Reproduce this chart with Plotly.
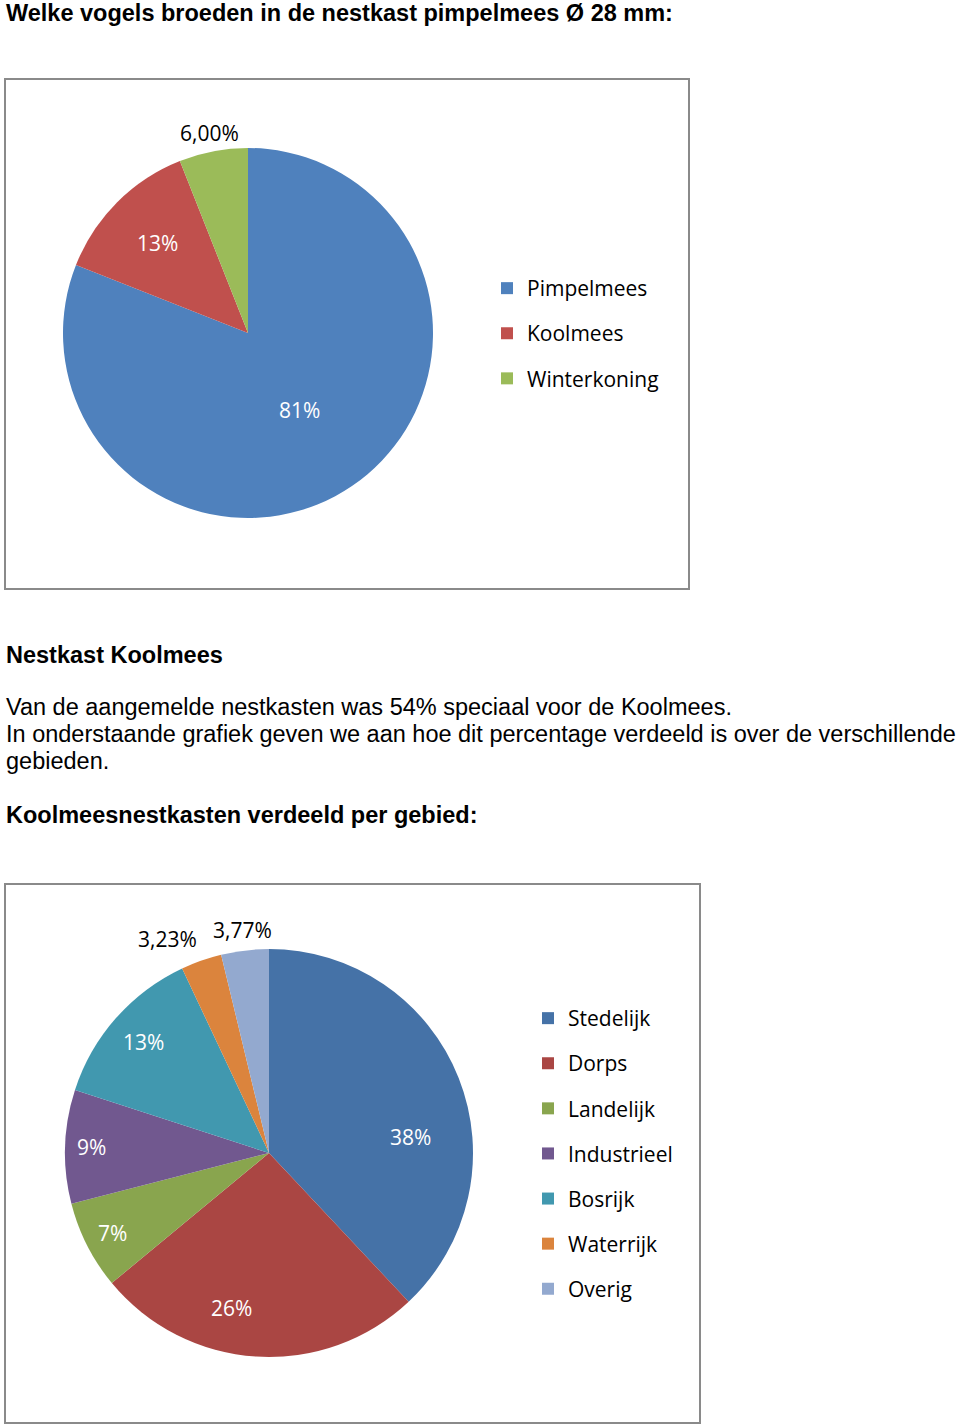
import math
import plotly.graph_objects as go

# ---- data ----
title1 = "Welke vogels broeden in de nestkast pimpelmees Ø 28 mm:"
birds = ["Pimpelmees", "Koolmees", "Winterkoning"]
bird_values = [81, 13, 6]
bird_text = ["81%", "13%", "6,00%"]
bird_colors = ["#4F81BD", "#C0504D", "#9BBB59"]

heading2 = "Nestkast Koolmees"
body_lines = [
    "Van de aangemelde nestkasten was 54% speciaal voor de Koolmees.",
    "In onderstaande grafiek geven we aan hoe dit percentage verdeeld is over de verschillende",
    "gebieden.",
]
title2 = "Koolmeesnestkasten verdeeld per gebied:"
areas = ["Stedelijk", "Dorps", "Landelijk", "Industrieel", "Bosrijk", "Waterrijk", "Overig"]
area_values = [38, 26, 7, 9, 13, 3.23, 3.77]
area_text = ["38%", "26%", "7%", "9%", "13%", "3,23%", "3,77%"]
area_colors = ["#4572A7", "#AA4643", "#89A54E", "#71588F", "#4198AF", "#DB843D", "#93A9CF"]

# ---- style / layout ----
W, H = 960, 1426
CHART_FONT = "Open Sans, Carlito, Calibri, sans-serif"
DOC_FONT = "Liberation Sans Narrow, Arial Narrow, Liberation Sans, Arial, sans-serif"
DOC_SIZE = 23.5
LABEL_SIZE = 21

# pie geometry in pixels: centre x, centre y, radius
PIE1 = (248, 333, 185)
PIE2 = (269, 1153, 204)
# label placement (fraction of radius from centre, angular nudge in degrees)
pie1_label_r = [0.50, 0.69, 1.10]
pie1_label_nudge = [0, 0, 0]
pie1_outside = [False, False, True]
pie2_label_r = [0.70, 0.78, 0.86, 0.87, 0.82, 1.16, 1.10]
pie2_label_nudge = [15, 10, 0, 0, 0, -6, 0]
pie2_outside = [False, False, False, False, False, True, True]


def px(x):
    return x / W


def py(y):
    return 1 - y / H


def domain(geom):
    cx, cy, r = geom
    return dict(x=[px(cx - r), px(cx + r)], y=[py(cy + r), py(cy - r)])


def slice_labels(values, texts, geom, rfrac, nudge, outside):
    cx, cy, r = geom
    total = float(sum(values))
    start = 0.0
    out = []
    for v, t, f, n, o in zip(values, texts, rfrac, nudge, outside):
        mid = (start + v / 2.0) / total * 360.0 + n
        start += v
        a = math.radians(mid)
        x = cx + f * r * math.sin(a)
        y = cy - f * r * math.cos(a)
        out.append(dict(text=t, x=px(x), y=py(y), xref="paper", yref="paper",
                        xanchor="center", yanchor="middle", showarrow=False,
                        font=dict(family=CHART_FONT, size=LABEL_SIZE,
                                  color="black" if o else "white")))
    return out


fig = go.Figure()

fig.add_trace(go.Pie(
    labels=birds, values=bird_values, textinfo="none",
    sort=False, direction="clockwise", rotation=0,
    marker=dict(colors=bird_colors, line=dict(width=0)),
    showlegend=False, domain=domain(PIE1),
))
fig.add_trace(go.Pie(
    labels=areas, values=area_values, textinfo="none",
    sort=False, direction="clockwise", rotation=0,
    marker=dict(colors=area_colors, line=dict(width=0)),
    showlegend=False, domain=domain(PIE2),
))

# legend entries (one per category, same names/colours as the slices)
for name, col in zip(birds, bird_colors):
    fig.add_trace(go.Scatter(x=[None], y=[None], mode="markers", name=name,
                             legendgroup="b_" + name, legend="legend",
                             marker=dict(symbol="square", size=12, color=col)))
for name, col in zip(areas, area_colors):
    fig.add_trace(go.Scatter(x=[None], y=[None], mode="markers", name=name,
                             legendgroup="a_" + name, legend="legend2",
                             marker=dict(symbol="square", size=12, color=col)))

legend_common = dict(
    xanchor="left", yanchor="top", traceorder="grouped", tracegroupgap=14.8,
    font=dict(family=CHART_FONT, size=21, color="black"),
    bgcolor="rgba(0,0,0,0)", itemclick=False, itemdoubleclick=False,
)

annotations = [
    dict(text="<b>" + title1 + "</b>", x=px(4), y=py(12.5)),
    dict(text="<b>" + heading2 + "</b>", x=px(4), y=py(655)),
    dict(text=body_lines[0], x=px(4), y=py(707)),
    dict(text=body_lines[1], x=px(4), y=py(734)),
    dict(text=body_lines[2], x=px(4), y=py(761)),
    dict(text="<b>" + title2 + "</b>", x=px(4), y=py(815)),
]
for a in annotations:
    a.update(xref="paper", yref="paper", xanchor="left", yanchor="middle",
             showarrow=False, font=dict(family=DOC_FONT, size=DOC_SIZE, color="black"))

annotations += slice_labels(bird_values, bird_text, PIE1, pie1_label_r, pie1_label_nudge, pie1_outside)
annotations += slice_labels(area_values, area_text, PIE2, pie2_label_r, pie2_label_nudge, pie2_outside)

shapes = [
    dict(type="rect", xref="paper", yref="paper", x0=px(5), x1=px(689), y0=py(589), y1=py(79),
         line=dict(color="#8A8A8A", width=2)),
    dict(type="rect", xref="paper", yref="paper", x0=px(5), x1=px(700), y0=py(1423), y1=py(884),
         line=dict(color="#8A8A8A", width=2)),
]

fig.update_layout(
    width=W, height=H, margin=dict(l=0, r=0, t=0, b=0),
    paper_bgcolor="white", plot_bgcolor="white",
    xaxis=dict(visible=False), yaxis=dict(visible=False),
    legend=dict(x=px(487), y=py(268), **legend_common),
    legend2=dict(x=px(528), y=py(998), **legend_common),
    annotations=annotations, shapes=shapes,
)

fig.write_html("out.html")
